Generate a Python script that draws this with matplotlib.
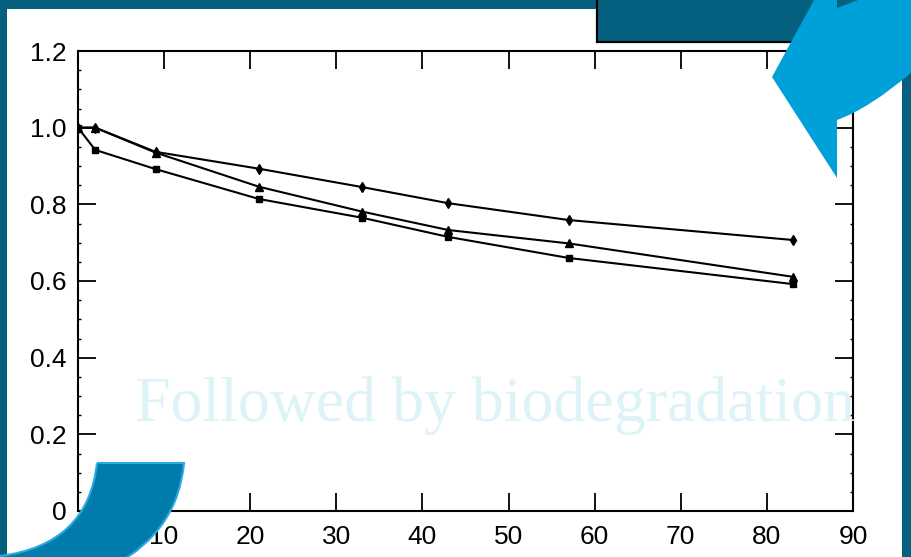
import numpy as np
import matplotlib
matplotlib.use('Agg')
import matplotlib.pyplot as plt
from matplotlib.patches import Rectangle, Polygon, PathPatch
from matplotlib.path import Path
from matplotlib.ticker import MultipleLocator

# time (x) and relative values for the three curves
days = [0, 2, 9, 21, 33, 43, 57, 83]
series_top = [1.0, 1.0, 0.937, 0.893, 0.845, 0.803, 0.759, 0.707]
series_mid = [1.0, 1.0, 0.935, 0.846, 0.781, 0.733, 0.698, 0.611]
series_low = [1.0, 0.942, 0.892, 0.814, 0.765, 0.715, 0.660, 0.592]
x_ticks = [0, 10, 20, 30, 40, 50, 60, 70, 80, 90]
y_ticks = [0, 0.2, 0.4, 0.6, 0.8, 1.0, 1.2]
y_tick_labels = ['0', '0.2', '0.4', '0.6', '0.8', '1.0', '1.2']
overlay_text = 'Followed by biodegradation'

teal = '#04607E'
light_blue = '#00A0D8'
dark_blue = '#007BAC'

W, H = 912, 557
fig = plt.figure(figsize=(W / 100, H / 100), dpi=100, facecolor=teal)

# white picture area behind the chart
bg = fig.add_axes([0, 0, 1, 1], zorder=0)
bg.set_xlim(0, W)
bg.set_ylim(H, 0)
bg.axis('off')
bg.add_patch(Rectangle((7, 9), 895, 560, facecolor='white', edgecolor='none'))

# the chart itself
ax = fig.add_axes([78 / W, 46 / H, (853 - 78) / W, (511 - 51) / H], zorder=1)
ax.patch.set_alpha(0)
line_kw = dict(color='black', lw=1.5)
ax.plot(days, series_top, marker='d', ms=5, **line_kw)
ax.plot(days, series_mid, marker='^', ms=6, **line_kw)
ax.plot(days, series_low, marker='s', ms=5, **line_kw)
ax.set_xlim(0, 90)
ax.set_ylim(0, 1.2)
ax.set_xticks(x_ticks)
ax.set_yticks(y_ticks)
ax.set_yticklabels(y_tick_labels)
ax.yaxis.set_minor_locator(MultipleLocator(0.05))
ax.tick_params(which='major', direction='in', length=13, width=1.3,
               top=True, right=True, labelsize=19, pad=8)
ax.tick_params(axis='x', pad=10)
ax.tick_params(which='minor', direction='in', length=2, width=1, right=True)
for lab in ax.get_xticklabels() + ax.get_yticklabels():
    lab.set_fontfamily('Liberation Sans')
for sp in ax.spines.values():
    sp.set_linewidth(1.5)

# slide decorations drawn on top
ov = fig.add_axes([0, 0, 1, 1], zorder=3)
ov.set_xlim(0, W)
ov.set_ylim(H, 0)
ov.axis('off')
ov.patch.set_alpha(0)
ov.add_patch(Rectangle((0, 0), W, 9, facecolor=teal, edgecolor='none'))
ov.add_patch(Rectangle((597, -5), 300, 47, facecolor=teal, edgecolor='black', lw=1.6))

verts = [(814, 0), (912, 0), (912, 72), (870, 108), (837, 120),
         (837, 178), (772, 77), (814, 0)]
codes = [Path.MOVETO, Path.LINETO, Path.LINETO, Path.CURVE3, Path.CURVE3,
         Path.LINETO, Path.LINETO, Path.CLOSEPOLY]
ov.add_patch(PathPatch(Path(verts, codes), facecolor=light_blue, edgecolor='none'))
ov.add_patch(Polygon([(837, 0), (837, 8), (858, 0)], facecolor=teal, edgecolor='none'))

verts = [(97, 463), (184, 463), (178, 530), (115, 565), (0, 565), (0, 556),
         (88, 545), (97, 463)]
codes = [Path.MOVETO, Path.LINETO, Path.CURVE3, Path.CURVE3, Path.LINETO,
         Path.LINETO, Path.CURVE3, Path.CURVE3]
ov.add_patch(PathPatch(Path(verts, codes), facecolor=dark_blue, edgecolor='#2AAAE0', lw=1.5))

ov.text(135, 421, overlay_text, fontsize=46, family='Liberation Serif',
        color='#DDF3F8', ha='left', va='baseline')

fig.savefig('out.png', dpi=100, facecolor=teal)
